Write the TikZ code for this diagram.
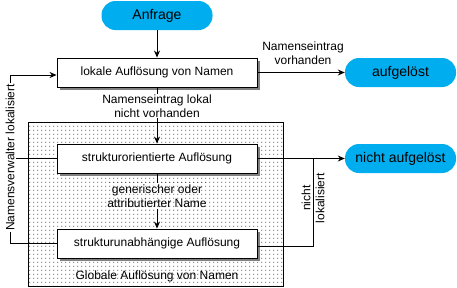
\documentclass[tikz,border=0pt]{standalone}
\usepackage{fontspec}
\setmainfont{Liberation Sans}
\usetikzlibrary{arrows.meta,patterns,shadows}
\definecolor{pillblue}{RGB}{0,174,239}
\pgfdeclarepatternformonly{sparsedots}{\pgfqpoint{0pt}{0pt}}{\pgfqpoint{4pt}{4pt}}{\pgfqpoint{4pt}{4pt}}{%
  \pgfpathrectangle{\pgfqpoint{1.6pt}{1.6pt}}{\pgfqpoint{0.9pt}{0.9pt}}\pgfusepath{fill}}
\begin{document}
\begin{tikzpicture}[x=1pt,y=-1pt,
  every node/.style={font=\fontsize{12}{14}\selectfont, inner sep=0pt},
  pill/.style={fill=pillblue, rounded corners=14pt, minimum width=111pt, minimum height=29pt, font=\fontsize{14}{16}\selectfont},
  procbox/.style={draw, fill=white, line width=0.9pt, minimum width=200pt, minimum height=29pt,
    drop shadow={shadow xshift=3pt, shadow yshift=-3pt, fill=black!50, opacity=1}},
  region/.style={draw, line width=0.9pt, preaction={fill=white}, pattern=sparsedots},
  conn/.style={line width=0.9pt},
  arr/.style={conn, -{Stealth[length=7pt,width=6pt]}},
  lbl/.style={align=center}
]
\useasboundingbox (0,0) rectangle (457,287);
% region
\node[region, minimum width=254.5pt, minimum height=164pt] (globreg) at (155.75,204) {};
% pills
\node[pill] (anf) at (157,15.5) {Anfrage};
\node[pill] (auf) at (400.5,72.5) {aufgelöst};
\node[pill] (nauf) at (400.5,158.5) {nicht aufgelöst};
% boxes
\node[procbox] (lok) at (157,72.5) {lokale Auflösung von Namen};
\node[procbox] (sto) at (157,158.5) {strukturorientierte Auflösung};
\node[procbox] (sua) at (157,243.5) {strukturunabhängige Auflösung};
% coordinates
\coordinate (lt) at (10,75);
\coordinate (lb) at (10,243.5);
\coordinate (rj) at (313,158.5);
\coordinate (rb) at (313,246);
% connectors
\draw[arr] (anf.south) -- (lok.north);
\draw[arr] (lok.east) -- (auf.west);
\draw[arr] (lok.south) -- (sto.north);
\draw[arr] (sto.south) -- (sua.north);
\draw[arr] (sto.east) -- (nauf.west);
\draw[conn] (sua.east |- rb) -- (rb) -- (rj);
\draw[arr] (lt) -- (lok.west |- lt);
\draw[conn] (lt) -- (lb) -- (sua.west |- lb);
\draw[conn] (sto.west) -- (sto.west -| lt);
% labels
\node[lbl, fill=white, inner ysep=1pt] (l1) at (157,106) {Namenseintrag lokal\\nicht vorhanden};
\node[lbl] (l2) at (303,53) {Namenseintrag\\vorhanden};
\node[lbl, preaction={fill=white}, pattern=sparsedots, inner ysep=2pt] (l3) at (157,196) {generischer oder\\attributierter Name};
\node[lbl, rotate=90] (l4) at (313,198) {nicht\\lokalisiert};
\node[fill=white, rotate=90, inner sep=1.5pt] (l5) at (10,157.5) {Namensverwalter lokalisiert};
\node (l6) at (157,276) {Globale Auflösung von Namen};
\end{tikzpicture}
\end{document}
